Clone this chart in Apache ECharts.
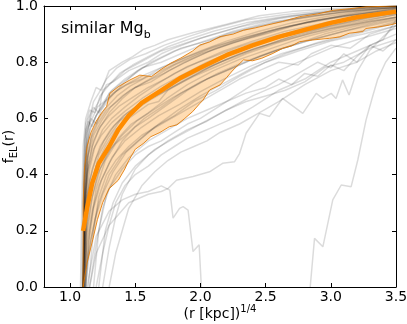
<!DOCTYPE html>
<html>
<head>
<meta charset="utf-8">
<script src="https://cdn.jsdelivr.net/npm/echarts@6/dist/echarts.min.js"></script>
<style>
  html, body { margin: 0; padding: 0; background: #fff; }
  #main { width: 407px; height: 324px; }
</style>
</head>
<body>
<div id="main"></div>
<script>
// tick positions
var xTicks = [1.0, 1.5, 2.0, 2.5, 3.0, 3.5];
var yTicks = [0.0, 0.2, 0.4, 0.6, 0.8, 1.0];

// median profile  [r^1/4, f_EL]
var medianLine = [[1.10,0.20],[1.13,0.28],[1.17,0.37],[1.22,0.44],[1.30,0.50],[1.37,0.56],[1.45,0.61],
  [1.55,0.655],[1.70,0.70],[1.85,0.745],[2.0,0.78],[2.2,0.825],[2.4,0.86],[2.6,0.89],[2.8,0.915],
  [3.0,0.94],[3.2,0.96],[3.5,0.98]];

// band edges
var bandUpper = [[1.10,0.0],[1.10,0.30],[1.11,0.42],[1.13,0.50],[1.16,0.55],[1.20,0.59],[1.25,0.625],
  [1.28,0.642],[1.305,0.689],[1.37,0.713],[1.46,0.737],[1.535,0.754],[1.625,0.749],[1.69,0.772],
  [1.77,0.796],[1.85,0.815],[1.94,0.84],[1.995,0.861],[2.07,0.872],[2.15,0.891],[2.25,0.90],
  [2.33,0.914],[2.42,0.922],[2.51,0.932],[2.63,0.945],[2.76,0.962],[2.9,0.972],[3.02,0.985],
  [3.14,0.99],[3.27,0.997],[3.5,1.0]];
var bandLower = [[1.10,0.0],[1.13,0.085],[1.175,0.17],[1.21,0.24],[1.25,0.30],[1.30,0.35],[1.37,0.38],
  [1.42,0.42],[1.45,0.45],[1.50,0.49],[1.56,0.51],[1.62,0.535],[1.69,0.55],[1.76,0.57],[1.82,0.577],
  [1.88,0.60],[1.94,0.624],[1.995,0.653],[2.02,0.665],[2.07,0.701],[2.15,0.719],[2.2,0.745],
  [2.25,0.772],[2.33,0.808],[2.40,0.805],[2.47,0.814],[2.55,0.83],[2.63,0.849],[2.7,0.858],
  [2.76,0.873],[2.86,0.879],[2.99,0.885],[3.07,0.89],[3.14,0.903],[3.245,0.909],[3.27,0.92],
  [3.36,0.925],[3.45,0.932],[3.5,0.938]];

// individual galaxy profiles
var galaxyProfiles = [
  // above the band
  [[1.08,0],[1.09,0.3],[1.10,0.5],[1.12,0.6],[1.16,0.66],[1.2,0.71],[1.24,0.70],[1.3,0.77],[1.4,0.80],[1.48,0.82],[1.56,0.845],[1.65,0.86],[1.75,0.88],[1.94,0.905],[2.2,0.935],[2.45,0.965],[2.7,0.98],[3.0,0.99],[3.5,1.0]],
  [[1.09,0],[1.10,0.35],[1.11,0.52],[1.14,0.6],[1.18,0.64],[1.22,0.62],[1.25,0.7],[1.35,0.74],[1.42,0.77],[1.5,0.79],[1.7,0.84],[1.9,0.87],[2.1,0.9],[2.4,0.94],[2.7,0.965],[3.0,0.98],[3.3,0.99],[3.5,0.995]],
  [[1.10,0],[1.11,0.4],[1.13,0.56],[1.17,0.62],[1.22,0.66],[1.28,0.72],[1.33,0.73],[1.45,0.77],[1.6,0.80],[1.7,0.83],[1.8,0.85],[2.0,0.885],[2.3,0.925],[2.6,0.955],[2.9,0.975],[3.2,0.99],[3.5,1.0]],
  [[1.10,0],[1.11,0.45],[1.12,0.58],[1.15,0.63],[1.19,0.62],[1.23,0.68],[1.3,0.72],[1.38,0.76],[1.48,0.79],[1.6,0.82],[1.75,0.855],[1.9,0.88],[2.1,0.91],[2.35,0.94],[2.6,0.96],[2.9,0.975],[3.2,0.99],[3.5,1.0]],
  [[1.11,0],[1.12,0.4],[1.13,0.55],[1.16,0.6],[1.2,0.58],[1.24,0.63],[1.3,0.67],[1.4,0.72],[1.52,0.77],[1.68,0.81],[1.85,0.85],[2.05,0.875],[2.3,0.91],[2.55,0.94],[2.85,0.965],[3.15,0.98],[3.5,0.995]],
  [[1.12,0],[1.13,0.45],[1.15,0.6],[1.18,0.66],[1.22,0.69],[1.28,0.74],[1.36,0.78],[1.46,0.81],[1.58,0.83],[1.72,0.86],[1.9,0.89],[2.1,0.92],[2.35,0.95],[2.65,0.97],[3.0,0.985],[3.5,1.0]],
  [[1.11,0],[1.12,0.5],[1.14,0.57],[1.17,0.6],[1.21,0.64],[1.26,0.66],[1.32,0.7],[1.42,0.74],[1.55,0.78],[1.7,0.80],[1.85,0.83],[2.0,0.86],[2.2,0.9],[2.45,0.93],[2.75,0.955],[3.05,0.975],[3.35,0.99],[3.5,0.995]],
  [[1.10,0],[1.11,0.48],[1.12,0.56],[1.14,0.59],[1.17,0.57],[1.2,0.61],[1.25,0.64],[1.3,0.69],[1.38,0.72],[1.5,0.76],[1.62,0.80],[1.8,0.84],[2.0,0.87],[2.25,0.91],[2.5,0.94],[2.8,0.96],[3.1,0.98],[3.5,0.995]],
  // inside the band
  [[1.10,0],[1.11,0.25],[1.13,0.4],[1.17,0.5],[1.22,0.56],[1.3,0.62],[1.4,0.67],[1.5,0.71],[1.65,0.75],[1.8,0.79],[2.0,0.83],[2.2,0.86],[2.4,0.89],[2.7,0.93],[3.0,0.955],[3.3,0.975],[3.5,0.985]],
  [[1.10,0],[1.12,0.2],[1.15,0.33],[1.2,0.43],[1.27,0.5],[1.35,0.56],[1.45,0.6],[1.6,0.65],[1.68,0.66],[1.75,0.70],[1.9,0.74],[2.1,0.79],[2.3,0.83],[2.5,0.86],[2.75,0.9],[3.0,0.93],[3.25,0.955],[3.5,0.975]],
  [[1.11,0],[1.13,0.15],[1.17,0.27],[1.22,0.36],[1.3,0.44],[1.4,0.52],[1.5,0.57],[1.6,0.6],[1.75,0.65],[1.9,0.7],[2.05,0.74],[2.25,0.78],[2.45,0.82],[2.7,0.86],[2.95,0.9],[3.2,0.93],[3.5,0.96]],
  [[1.10,0],[1.11,0.3],[1.13,0.45],[1.16,0.53],[1.21,0.58],[1.28,0.63],[1.36,0.66],[1.46,0.7],[1.58,0.73],[1.72,0.76],[1.88,0.8],[2.05,0.835],[2.25,0.87],[2.5,0.9],[2.8,0.94],[3.1,0.965],[3.5,0.99]],
  [[1.10,0],[1.12,0.18],[1.16,0.3],[1.21,0.4],[1.28,0.47],[1.37,0.53],[1.47,0.58],[1.6,0.62],[1.74,0.67],[1.9,0.72],[2.1,0.77],[2.3,0.81],[2.55,0.85],[2.8,0.89],[3.05,0.92],[3.3,0.945],[3.5,0.96]],
  [[1.11,0],[1.14,0.12],[1.19,0.24],[1.25,0.33],[1.33,0.41],[1.43,0.48],[1.55,0.53],[1.68,0.58],[1.83,0.63],[2.0,0.68],[2.2,0.73],[2.4,0.78],[2.65,0.83],[2.9,0.87],[3.15,0.9],[3.35,0.925],[3.5,0.945]],
  [[1.10,0],[1.11,0.35],[1.12,0.48],[1.15,0.56],[1.19,0.6],[1.25,0.65],[1.33,0.69],[1.43,0.72],[1.55,0.74],[1.7,0.78],[1.85,0.81],[2.0,0.84],[2.2,0.875],[2.45,0.91],[2.7,0.94],[3.0,0.965],[3.3,0.985],[3.5,0.995]],
  [[1.12,0],[1.15,0.2],[1.2,0.35],[1.27,0.45],[1.35,0.51],[1.45,0.55],[1.57,0.6],[1.7,0.64],[1.85,0.69],[2.0,0.73],[2.2,0.77],[2.4,0.81],[2.6,0.845],[2.85,0.88],[3.1,0.91],[3.3,0.935],[3.5,0.955]],
  [[1.10,0],[1.12,0.26],[1.15,0.42],[1.19,0.5],[1.25,0.56],[1.32,0.6],[1.42,0.64],[1.53,0.68],[1.66,0.72],[1.8,0.76],[1.98,0.8],[2.18,0.84],[2.4,0.875],[2.65,0.91],[2.95,0.94],[3.25,0.965],[3.5,0.98]],
  [[1.11,0],[1.13,0.22],[1.16,0.36],[1.22,0.47],[1.29,0.53],[1.38,0.59],[1.5,0.63],[1.63,0.67],[1.78,0.71],[1.95,0.75],[2.15,0.79],[2.35,0.83],[2.6,0.87],[2.85,0.905],[3.1,0.93],[3.35,0.955],[3.5,0.97]],
  [[1.10,0],[1.115,0.3],[1.14,0.47],[1.18,0.54],[1.24,0.59],[1.31,0.64],[1.4,0.68],[1.5,0.71],[1.62,0.73],[1.76,0.77],[1.93,0.81],[2.12,0.85],[2.35,0.885],[2.6,0.92],[2.9,0.95],[3.2,0.975],[3.5,0.99]],
  [[1.12,0],[1.16,0.17],[1.22,0.3],[1.3,0.4],[1.4,0.47],[1.52,0.52],[1.65,0.57],[1.8,0.61],[1.95,0.66],[2.12,0.7],[2.3,0.75],[2.5,0.8],[2.75,0.84],[3.0,0.875],[3.25,0.9],[3.5,0.93]],
  [[1.10,0],[1.11,0.28],[1.14,0.44],[1.18,0.52],[1.23,0.57],[1.3,0.61],[1.38,0.645],[1.48,0.675],[1.6,0.71],[1.75,0.745],[1.9,0.785],[2.1,0.82],[2.3,0.855],[2.55,0.89],[2.8,0.92],[3.1,0.95],[3.5,0.975]],
  [[1.11,0],[1.12,0.22],[1.15,0.38],[1.2,0.46],[1.26,0.52],[1.34,0.575],[1.44,0.62],[1.56,0.66],[1.7,0.69],[1.85,0.73],[2.02,0.77],[2.2,0.81],[2.42,0.85],[2.7,0.885],[3.0,0.92],[3.3,0.945],[3.5,0.96]],
  [[1.10,0],[1.11,0.2],[1.13,0.32],[1.17,0.42],[1.23,0.5],[1.31,0.56],[1.41,0.61],[1.52,0.645],[1.65,0.68],[1.8,0.725],[1.97,0.765],[2.15,0.8],[2.38,0.84],[2.62,0.88],[2.9,0.915],[3.2,0.945],[3.5,0.97]],
  [[1.10,0],[1.115,0.33],[1.135,0.46],[1.17,0.55],[1.22,0.6],[1.28,0.64],[1.36,0.68],[1.46,0.715],[1.58,0.745],[1.72,0.775],[1.88,0.81],[2.06,0.845],[2.28,0.88],[2.52,0.91],[2.8,0.94],[3.1,0.965],[3.5,0.985]],
  [[1.11,0],[1.13,0.18],[1.17,0.32],[1.23,0.42],[1.31,0.49],[1.4,0.54],[1.51,0.59],[1.64,0.63],[1.79,0.675],[1.95,0.715],[2.13,0.76],[2.33,0.8],[2.56,0.84],[2.82,0.875],[3.1,0.91],[3.35,0.935],[3.5,0.95]],
  [[1.10,0],[1.12,0.3],[1.14,0.42],[1.18,0.49],[1.24,0.54],[1.32,0.585],[1.42,0.625],[1.55,0.67],[1.7,0.715],[1.86,0.755],[2.05,0.8],[2.25,0.84],[2.5,0.875],[2.75,0.905],[3.05,0.935],[3.3,0.96],[3.5,0.975]],
  [[1.12,0],[1.14,0.15],[1.18,0.28],[1.24,0.38],[1.32,0.46],[1.42,0.52],[1.54,0.565],[1.68,0.61],[1.84,0.65],[2.0,0.695],[2.18,0.74],[2.38,0.785],[2.62,0.83],[2.88,0.865],[3.15,0.895],[3.5,0.94]],
  [[1.10,0],[1.11,0.38],[1.13,0.5],[1.16,0.57],[1.21,0.62],[1.27,0.66],[1.35,0.695],[1.45,0.725],[1.57,0.755],[1.72,0.785],[1.9,0.82],[2.1,0.855],[2.35,0.89],[2.6,0.92],[2.9,0.95],[3.2,0.97],[3.5,0.99]],
  // below the band
  [[1.13,0],[1.2,0.18],[1.3,0.27],[1.4,0.31],[1.5,0.33],[1.6,0.34],[1.7,0.36],[1.765,0.345],[1.79,0.245],[1.84,0.28],[1.867,0.286],[1.905,0.274],[1.943,0.126],[1.99,0.15],[2.0,0.15],[2.007,0.0]],
  [[2.842,0.0],[2.875,0.173],[2.939,0.143],[3.015,0.31],[3.08,0.363],[3.156,0.357],[3.207,0.452],[3.27,0.594],[3.32,0.677],[3.36,0.74],[3.42,0.80],[3.5,0.85]],
  [[1.15,0],[1.2,0.12],[1.3,0.22],[1.45,0.3],[1.6,0.33],[1.7,0.34],[1.752,0.351],[1.816,0.38],[1.943,0.393],[2.07,0.41],[2.17,0.44],[2.262,0.446],[2.3,0.475],[2.35,0.547],[2.454,0.618],[2.53,0.607],[2.63,0.671],[2.785,0.618],[2.888,0.689],[2.939,0.671],[3.003,0.689],[3.04,0.671],[3.09,0.737],[3.14,0.683],[3.194,0.76],[3.3,0.843],[3.4,0.89],[3.5,0.93]],
  [[1.15,0],[1.2,0.15],[1.25,0.28],[1.3,0.35],[1.4,0.42],[1.5,0.47],[1.6,0.5],[1.7,0.52],[1.8,0.55],[1.9,0.58],[2.0,0.6],[2.2,0.66],[2.4,0.72],[2.6,0.77],[2.8,0.81],[3.0,0.85],[3.2,0.88],[3.5,0.92]],
  [[1.2,0],[1.25,0.12],[1.3,0.22],[1.35,0.3],[1.42,0.36],[1.5,0.4],[1.6,0.43],[1.7,0.47],[1.8,0.5],[1.9,0.53],[2.0,0.55],[2.1,0.57],[2.25,0.6],[2.4,0.64],[2.6,0.7],[2.8,0.74],[3.0,0.8],[3.2,0.84],[3.5,0.9]],
  [[1.25,0],[1.3,0.14],[1.35,0.25],[1.4,0.33],[1.5,0.42],[1.6,0.47],[1.75,0.52],[1.9,0.56],[2.05,0.59],[2.2,0.63],[2.35,0.66],[2.5,0.68],[2.65,0.7],[2.8,0.73],[2.95,0.78],[3.1,0.8],[3.3,0.85],[3.5,0.88]],
  [[1.3,0],[1.35,0.12],[1.4,0.2],[1.45,0.28],[1.55,0.36],[1.65,0.41],[1.75,0.45],[1.85,0.48],[1.95,0.5],[2.05,0.52],[2.15,0.55],[2.3,0.58],[2.45,0.62],[2.6,0.66],[2.8,0.72],[3.0,0.77],[3.2,0.8],[3.35,0.84],[3.5,0.87]],
  [[1.18,0],[1.22,0.2],[1.28,0.33],[1.35,0.4],[1.45,0.46],[1.6,0.52],[1.75,0.56],[1.9,0.6],[2.05,0.63],[2.2,0.66],[2.35,0.69],[2.5,0.71],[2.6,0.74],[2.7,0.72],[2.8,0.76],[2.9,0.75],[3.0,0.79],[3.1,0.77],[3.2,0.82],[3.3,0.86],[3.4,0.84],[3.5,0.88]],
  [[1.14,0],[1.18,0.2],[1.22,0.32],[1.28,0.4],[1.35,0.45],[1.45,0.5],[1.55,0.54],[1.7,0.58],[1.85,0.62],[2.0,0.66],[2.15,0.7],[2.3,0.74],[2.45,0.77],[2.6,0.8],[2.75,0.79],[2.85,0.83],[3.0,0.86],[3.15,0.85],[3.3,0.9],[3.5,0.93]],
  [[1.22,0],[1.27,0.2],[1.33,0.3],[1.4,0.37],[1.5,0.43],[1.65,0.49],[1.8,0.53],[2.0,0.58],[2.2,0.63],[2.4,0.68],[2.6,0.72],[2.75,0.76],[2.9,0.8],[3.0,0.78],[3.1,0.83],[3.2,0.8],[3.3,0.86],[3.4,0.88],[3.5,0.95]]
];

var FONT = 'DejaVu Sans';

function frameX(pos, showLabel) {
  return {
    type: 'value', min: 0.8, max: 3.5, position: pos,
    axisLine: { onZero: false, lineStyle: { color: '#000', width: 1 } },
    axisTick: { inside: true, length: 4, customValues: xTicks, lineStyle: { color: '#000' } },
    axisLabel: { show: showLabel, customValues: xTicks, formatter: function (v) { return v.toFixed(1); },
      color: '#000', fontSize: 14, fontFamily: FONT, margin: 3 },
    splitLine: { show: false }
  };
}
function frameY(pos, showLabel) {
  return {
    type: 'value', min: 0, max: 1, position: pos,
    axisLine: { onZero: false, lineStyle: { color: '#000', width: 1 } },
    axisTick: { inside: true, length: 4, customValues: yTicks, lineStyle: { color: '#000' } },
    axisLabel: { show: showLabel, customValues: yTicks, formatter: function (v) { return v.toFixed(1); },
      color: '#000', fontSize: 14, fontFamily: FONT, margin: 6 },
    splitLine: { show: false }
  };
}

var xBottom = frameX('bottom', true);
xBottom.name = '{a|(r [kpc])}{s|1/4}';
xBottom.nameLocation = 'middle';
xBottom.nameGap = 17;
xBottom.nameMoveOverlap = false;
xBottom.nameTextStyle = { fontFamily: FONT, color: '#000', verticalAlign: 'top',
  rich: { a: { fontSize: 14, fontFamily: FONT, lineHeight: 17, verticalAlign: 'bottom' },
          s: { fontSize: 10, fontFamily: FONT, lineHeight: 17, verticalAlign: 'top' } } };

var yLeft = frameY('left', true);
yLeft.name = '{a|f}{s|EL}{a|(r)}';
yLeft.nameLocation = 'middle';
yLeft.nameGap = 25;
yLeft.nameMoveOverlap = false;
yLeft.nameTextStyle = { fontFamily: FONT, color: '#000',
  rich: { a: { fontSize: 14, fontFamily: FONT, lineHeight: 17, verticalAlign: 'top' },
          s: { fontSize: 10, fontFamily: FONT, lineHeight: 17, verticalAlign: 'bottom' } } };

var series = [];

// shaded band between the edges
series.push({
  type: 'custom', silent: true, animation: false, z: 1,
  data: [[1.1, 0]],
  renderItem: function (params, api) {
    var pts = [];
    bandUpper.forEach(function (p) { pts.push(api.coord(p)); });
    for (var i = bandLower.length - 1; i >= 0; i--) pts.push(api.coord(bandLower[i]));
    return { type: 'polygon', shape: { points: pts },
      style: { fill: 'rgba(255,140,0,0.3)', stroke: null } };
  }
});

galaxyProfiles.forEach(function (d) {
  series.push({
    type: 'line', data: d, showSymbol: false, silent: true, animation: false, z: 2,
    lineStyle: { color: 'rgba(0,0,0,0.14)', width: 1.5 }
  });
});

[bandUpper, bandLower].forEach(function (d) {
  series.push({
    type: 'line', data: d, showSymbol: false, silent: true, animation: false, z: 3,
    lineStyle: { color: 'rgba(225,120,0,0.85)', width: 1 }
  });
});

series.push({
  type: 'line', data: medianLine, showSymbol: false, silent: true, animation: false, z: 4,
  lineStyle: { color: '#ff8c00', width: 4.5 }
});

var option = {
  animation: false,
  grid: { left: 44, right: 11, top: 6, bottom: 37, outerBoundsMode: 'none' },
  title: {
    text: '{n|similar Mg}{s|b}', left: 56, top: 16,
    textStyle: { fontWeight: 'normal', rich: {
      n: { fontSize: 16, fontFamily: FONT, fontWeight: 'normal', color: '#000', lineHeight: 20, verticalAlign: 'top' },
      s: { fontSize: 11, fontFamily: FONT, fontWeight: 'normal', color: '#000', lineHeight: 20, verticalAlign: 'bottom' } } }
  },
  xAxis: [xBottom, frameX('top', false)],
  yAxis: [yLeft, frameY('right', false)],
  series: series
};

echarts.init(document.getElementById('main')).setOption(option);
</script>
</body>
</html>
